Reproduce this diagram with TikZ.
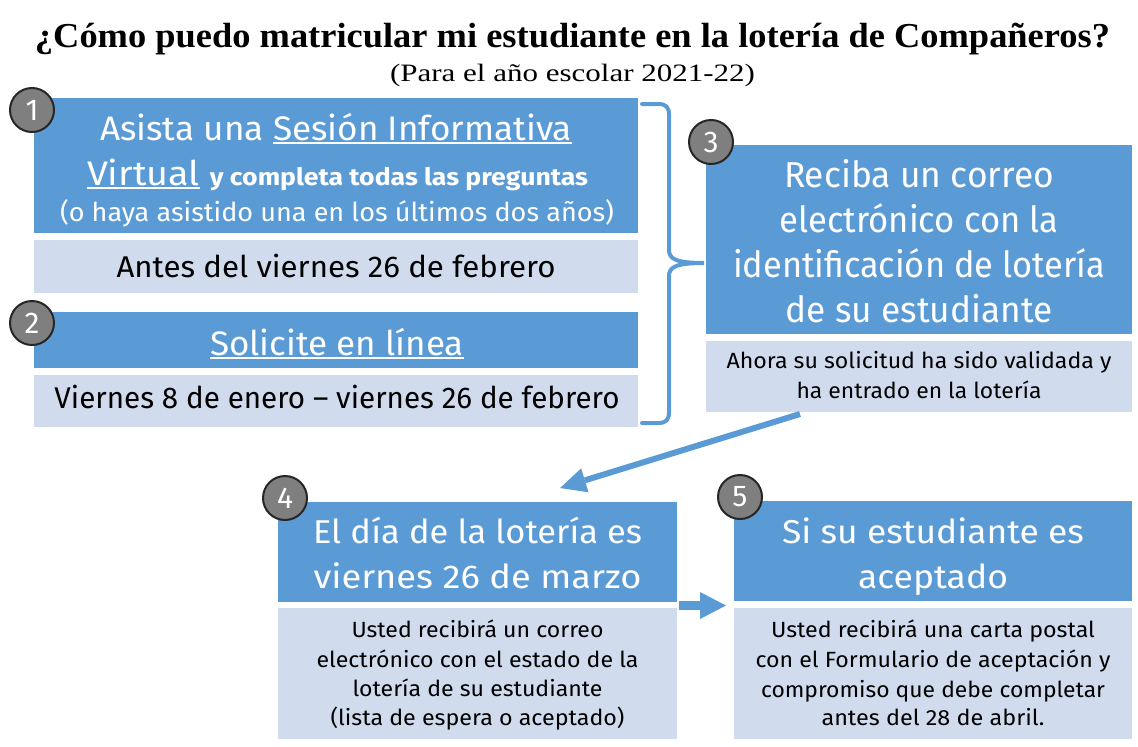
\documentclass[tikz,border=0pt]{standalone}
\usepackage{graphicx}
\usepackage{fontspec}
\setmainfont{Liberation Serif}
\newfontfamily\boxfont{Fira Sans}
\usetikzlibrary{arrows.meta}
\definecolor{dblue}{HTML}{5B9BD5}
\definecolor{lblue}{HTML}{D0DCEE}
\definecolor{cgray}{HTML}{7F7F7F}
\definecolor{cdark}{HTML}{262626}
\newlength\fitlen
\newcommand\fitx[2]{\settowidth\fitlen{#2}\pgfmathsetmacro\fitr{#1/\fitlen}\scalebox{\fitr}[1]{#2}}
\newcommand\ul[1]{\setbox0\hbox{#1}\rlap{\rule[-3.5pt]{\wd0}{1.8pt}}\box0\relax}
\newcommand\fsz[1]{\fontsize{#1}{#1}\selectfont}
\begin{document}
\begin{tikzpicture}[x=1pt,y=-1pt,
  dbox/.style={fill=dblue, inner sep=0, outer sep=0, anchor=north west},
  lbox/.style={fill=lblue, inner sep=0, outer sep=0, anchor=north west},
  numc/.style={circle, fill=cgray, draw=cdark, line width=2, minimum size=44, inner sep=0, text=white, font=\boxfont\fsz{30}},
  wt/.style={anchor=base, inner sep=0, text=white, font=\boxfont},
  bt/.style={anchor=base, inner sep=0, text=black, font=\boxfont},
  tt/.style={anchor=base, inner sep=0, text=black},
  brace/.style={draw=dblue, line width=4, line cap=round},
  conn/.style={draw=dblue, line width=6, -{Triangle[length=26pt,width=25pt,line width=0pt]}},
  blk/.style={draw=dblue, line width=9, -{Triangle[length=26pt,width=27pt,line width=0pt]}}]
\useasboundingbox (0,0) rectangle (1138,747);
% title
\node[tt, font=\bfseries\fsz{35}] (title) at (572.5,47) {\fitx{1075}{¿Cómo puedo matricular mi estudiante en la lotería de Compañeros?}};
\node[tt, font=\fsz{25}] (sub) at (572.5,81) {\fitx{365}{(Para el año escolar 2021-22)}};
% boxes
\node[dbox, minimum width=604, minimum height=135] (b1) at (34,98) {};
\node[lbox, minimum width=604, minimum height=53] (l1) at (34,240) {};
\node[dbox, minimum width=604, minimum height=56] (b2) at (34,312) {};
\node[lbox, minimum width=604, minimum height=52] (l2) at (34,375) {};
\node[dbox, minimum width=426, minimum height=189] (b3) at (706,145) {};
\node[lbox, minimum width=426, minimum height=71] (l3) at (706,341) {};
\node[dbox, minimum width=399, minimum height=100] (b4) at (278,502) {};
\node[lbox, minimum width=399, minimum height=131] (l4) at (278,608) {};
\node[dbox, minimum width=398, minimum height=100] (b5) at (734,501) {};
\node[lbox, minimum width=398, minimum height=131] (l5) at (734,608) {};
% box 1 / 2 text
\node[wt] (t1a) at (336,140) {\fsz{34}\fitx{472}{Asista una \ul{Sesión Informativa}}};
\node[wt] (t1b) at (337.5,185) {\fsz{34}\fitx{501}{\ul{Virtual} {\fsz{24}\bfseries y completa todas las preguntas}}};
\node[wt] (t1c) at (337,221) {\fsz{26}\fitx{554}{(o haya asistido una en los últimos dos años)}};
\node[bt] (t1d) at (336,277) {\fsz{30}\fitx{439}{Antes del viernes 26 de febrero}};
\node[wt] (t2a) at (337,355) {\fsz{34}\fitx{254}{\ul{Solicite en línea}}};
\node[bt] (t2b) at (337,408) {\fsz{30}\fitx{565}{Viernes 8 de enero – viernes 26 de febrero}};
% box 3
\node[wt] (t3a) at (919,187) {\fsz{36}\fitx{270}{Reciba un correo}};
\node[wt] (t3b) at (919,232) {\fsz{36}\fitx{279}{electrónico con la}};
\node[wt] (t3c) at (919,277) {\fsz{36}\fitx{372}{identificación de lotería}};
\node[wt] (t3d) at (919,322) {\fsz{36}\fitx{267}{de su estudiante}};
\node[bt] (t3e) at (919,368) {\fsz{22}\fitx{385}{Ahora su solicitud ha sido validada y}};
\node[bt] (t3f) at (919,398) {\fsz{22}\fitx{245}{ha entrado en la lotería}};
% box 4
\node[wt] (t4a) at (477.5,543) {\fsz{33}\fitx{329}{El día de la lotería es}};
\node[wt] (t4b) at (477.5,588) {\fsz{33}\fitx{328}{viernes 26 de marzo}};
\node[bt] (t4c) at (477.5,637) {\fsz{22}\fitx{252}{Usted recibirá un correo}};
\node[bt] (t4d) at (477.5,667) {\fsz{22}\fitx{322}{electrónico con el estado de la}};
\node[bt] (t4e) at (477.5,696) {\fsz{22}\fitx{250}{lotería de su estudiante}};
\node[bt] (t4f) at (477.5,725) {\fsz{22}\fitx{294}{(lista de espera o aceptado)}};
% box 5
\node[wt] (t5a) at (933,543) {\fsz{33}\fitx{302}{Si su estudiante es}};
\node[wt] (t5b) at (933,588) {\fsz{33}\fitx{150}{aceptado}};
\node[bt] (t5c) at (933,637) {\fsz{22}\fitx{324}{Usted recibirá una carta postal}};
\node[bt] (t5d) at (933,667) {\fsz{22}\fitx{355}{con el Formulario de aceptación y}};
\node[bt] (t5e) at (933,697) {\fsz{22}\fitx{344}{compromiso que debe completar}};
\node[bt] (t5f) at (933,725) {\fsz{22}\fitx{223}{antes del 28 de abril.}};
% brace
\draw[brace] (642,104) -- (658,104) .. controls (666,104) and (669,107) .. (669,115) -- (669,250)
  .. controls (669,259) and (676,263) .. (704,263)
  .. controls (676,263) and (669,267) .. (669,276) -- (669,412)
  .. controls (669,420) and (666,423) .. (658,423) -- (642,423);
% connectors
\coordinate (a3s) at (800,414);
\coordinate (a4e) at (560,488);
\draw[conn] (a3s) -- (a4e);
\coordinate (a4s) at (679,605.5);
\coordinate (a5e) at (726,605.5);
\draw[blk] (a4s) -- (a5e);
% numbers
\node[numc] (n1) at (32,110) {1};
\node[numc] (n2) at (32,323) {2};
\node[numc] (n3) at (711,142) {3};
\node[numc] (n4) at (285,498) {4};
\node[numc] (n5) at (740,497) {5};
\end{tikzpicture}
\end{document}
